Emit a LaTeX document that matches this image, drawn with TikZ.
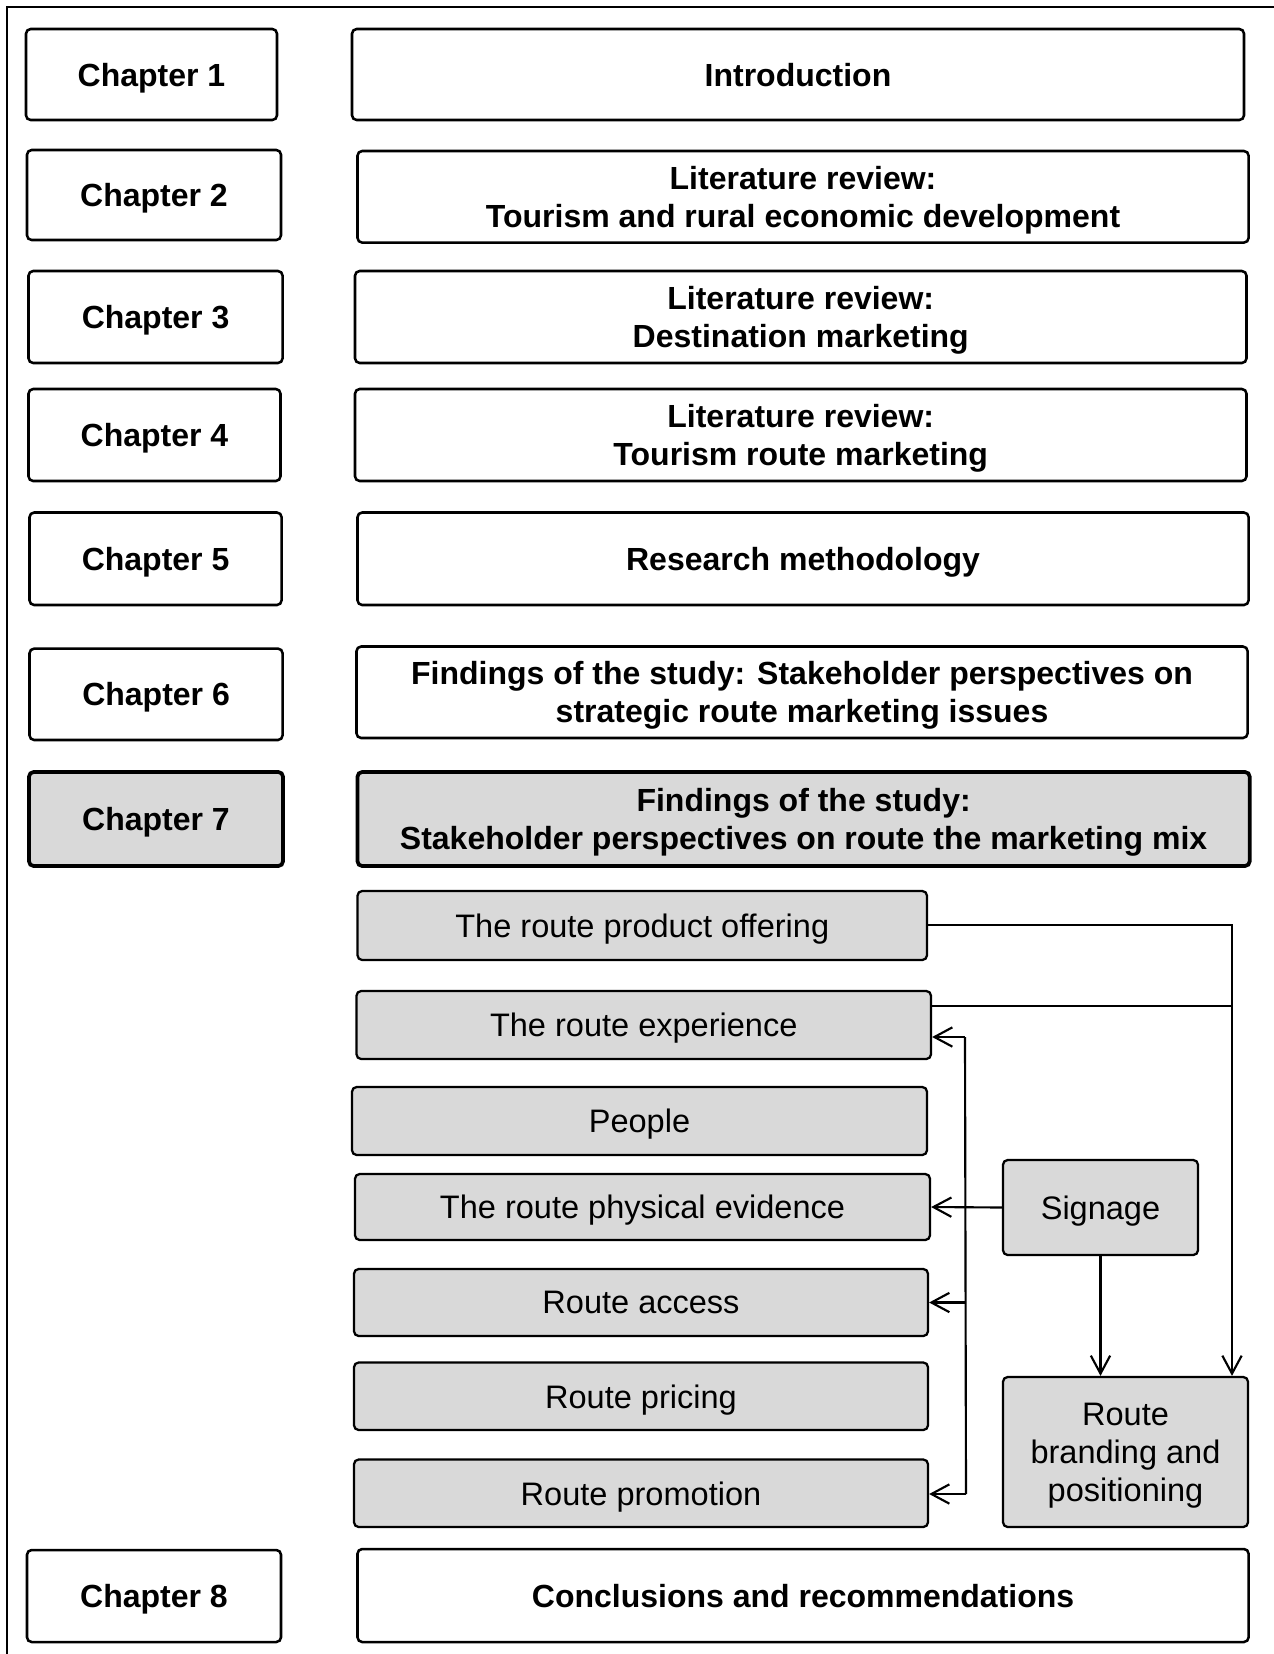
\documentclass[tikz,border=0pt]{standalone}
\usepackage{fontspec}
\setmainfont{Liberation Sans}
\usetikzlibrary{arrows.meta}
\definecolor{boxgray}{HTML}{D9D9D9}
\newcommand\mybox[7]{\node[#1, minimum width={(#5-#3)*0.75pt}, minimum height={(#6-#4)*0.75pt}] (#2) at ({(#3+#5)/2},{(#4+#6)/2}) {#7};}
\begin{document}
\begin{tikzpicture}[x=0.75pt,y=-0.75pt,
 base/.style={draw=black, rounded corners=3.5pt, inner sep=0pt, text depth=0pt, align=center, font=\fontsize{24.4}{28.5}\selectfont},
 chap/.style={base, line width=1.9pt, font=\bfseries\fontsize{24}{28.5}\selectfont},
 chapsel/.style={chap, line width=2.8pt, fill=boxgray},
 item/.style={base, line width=1.7pt, fill=boxgray},
 conn/.style={line width=1.6pt},
 arr/.style={conn, -{Straight Barb[length=13.5pt,width=14.5pt,line width=1.6pt]}}
]
\useasboundingbox (0,0) rectangle (1274,1654);
\draw[line width=1.6pt] (1274,7) -- (7,7) -- (7,1654);

% chapter column
\mybox{chap}{c1}{26}{29}{277}{120}{Chapter 1}
\mybox{chap}{c2}{27}{150}{281}{240}{Chapter 2}
\mybox{chap}{c3}{28.5}{271}{282.6}{363}{Chapter 3}
\mybox{chap}{c4}{28.5}{389}{280.5}{481}{Chapter 4}
\mybox{chap}{c5}{29.5}{512.5}{281.6}{605}{Chapter 5}
\mybox{chap}{c6}{29.5}{648.6}{282.6}{740}{Chapter 6}
\mybox{chapsel}{c7}{29}{772}{283}{866}{Chapter 7}
\mybox{chap}{c8}{27}{1550}{281}{1642}{Chapter 8}

% title column
\mybox{chap}{r1}{352}{29}{1244}{120}{Introduction}
\mybox{chap}{r2}{357.5}{151}{1248.6}{242.6}{Literature review:\\Tourism and rural economic development}
\mybox{chap}{r3}{355}{271}{1246.5}{363}{Literature review:\\Destination marketing}
\mybox{chap}{r4}{355}{389}{1246.5}{481}{Literature review:\\Tourism route marketing}
\mybox{chap}{r5}{357.5}{512.5}{1248.6}{605}{Research methodology}
\mybox{chap}{r6}{356.5}{646.5}{1247.6}{738}{Findings of the study: Stakeholder perspectives on\\strategic route marketing issues}
\mybox{chapsel}{r7}{357.5}{772}{1249.7}{866}{Findings of the study:\\Stakeholder perspectives on route the marketing mix}
\mybox{chap}{r8}{357.5}{1549}{1248.6}{1642}{Conclusions and recommendations}

% marketing mix items
\mybox{item}{s1}{357.5}{891}{927}{960}{The route product offering}
\mybox{item}{s2}{356.5}{991}{931}{1059}{The route experience}
\mybox{item}{s3}{352}{1087}{927}{1155}{People}
\mybox{item}{s4}{355}{1174}{930}{1240}{The route physical evidence}
\mybox{item}{s5}{354}{1269}{928}{1336}{Route access}
\mybox{item}{s6}{354}{1362.5}{928}{1430}{Route pricing}
\mybox{item}{s7}{354}{1459.5}{928}{1527}{Route promotion}
\mybox{item}{sig}{1003}{1160}{1198}{1255}{Signage}
\mybox{item}{brand}{1003}{1377}{1248}{1527}{Route\\branding and\\positioning}

% connectors
\coordinate (rx) at (1232,925);
\coordinate (ej) at (1232,1006);
\draw[arr] (s1.east |- rx) -- (rx) -- (rx |- brand.north);
\draw[conn] (s2.east |- ej) -- (ej);

\coordinate (lt) at (965,1037);
\coordinate (lb) at (966,1494);
\draw[conn] (lt) -- (lb);
\draw[arr] (lt) -- (s2.east |- lt);
\draw[arr] (lt |- s5.east) -- (s5.east);
\draw[arr] (lb) -- (s7.east |- lb);

\draw[arr] (sig.west) -- (s4.east);
\draw[arr] (sig.south) -- (sig.south |- brand.north);
\end{tikzpicture}
\end{document}
